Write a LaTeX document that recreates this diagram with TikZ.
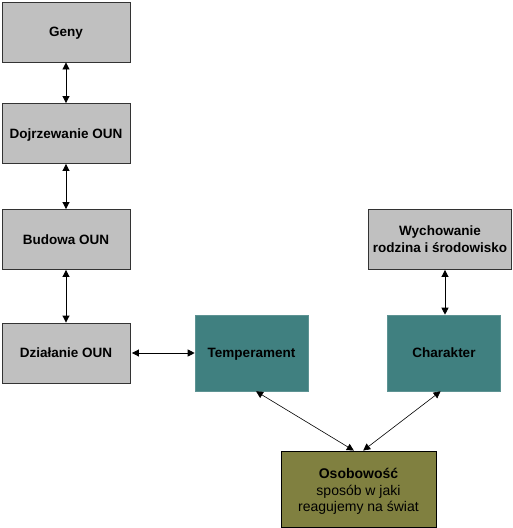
\documentclass[tikz,border=0pt]{standalone}
\usepackage{fontspec}
\setmainfont{Liberation Sans}
\usetikzlibrary{arrows.meta,calc}
\definecolor{boxgray}{HTML}{C0C0C0}
\definecolor{tealbox}{HTML}{408080}
\definecolor{olivebox}{HTML}{808040}
\tikzset{
  graybox/.style={draw=black!80, line width=0.9pt, fill=boxgray, minimum width=128pt, minimum height=60pt, inner sep=0pt, font=\fontsize{13.5}{17}\selectfont\bfseries, align=center},
  tealstyle/.style={fill=tealbox, draw=tealbox!85!white, line width=0.6pt, minimum width=113pt, minimum height=76pt, inner sep=0pt, font=\fontsize{13.5}{17}\selectfont\bfseries, align=center},
  olivestyle/.style={fill=olivebox, draw=black, line width=0.9pt, minimum width=155pt, minimum height=76pt, inner sep=0pt, font=\fontsize{14}{16.5}\selectfont, align=center},
  conn/.style={line width=0.9pt, {Triangle[length=7pt,width=7pt]}-{Triangle[length=7pt,width=7pt]}},
  thinconn/.style={line width=0.6pt, {Triangle[length=7pt,width=7pt]}-{Triangle[length=7pt,width=7pt]}}
}
\newcommand{\mystrut}{\rule[-3.4pt]{0pt}{16.4pt}}
\begin{document}
\begin{tikzpicture}[x=1pt,y=-1pt]
\useasboundingbox (0,0) rectangle (513,528);
\node[graybox] (geny) at (66,32) {\mystrut Geny};
\node[graybox] (dojr) at (66,133.5) {\mystrut Dojrzewanie OUN};
\node[graybox] (bud) at (66,239.5) {\mystrut Budowa OUN};
\node[graybox] (dzial) at (66,353) {\mystrut Działanie OUN};
\node[graybox, minimum width=143pt] (wych) at (440,239.5) {Wychowanie\\rodzina i środowisko};
\node[tealstyle] (temp) at (251.5,353) {\mystrut Temperament};
\node[tealstyle] (char) at (444,353) {\mystrut Charakter};
\node[olivestyle] (oso) at (358.5,489) {\rule{0pt}{15pt}\textbf{Osobowość}\\sposób w jaki\\reagujemy na świat};
\draw[conn] (geny.south) -- (dojr.north);
\draw[conn] (dojr.south) -- (bud.north);
\draw[conn] (bud.south) -- (dzial.north);
\draw[conn] ($(dzial.east)+(1.5,0)$) -- (temp.west);
\draw[conn] ($(wych.south)+(5,0)$) -- ($(char.north)+(1,0)$);
\draw[thinconn] ($(temp.south west)!0.54!(temp.south east)$) -- ($(oso.north west)!0.47!(oso.north east)$);
\draw[thinconn] ($(char.south west)!0.47!(char.south east)$) -- ($(oso.north west)!0.53!(oso.north east)$);
\end{tikzpicture}
\end{document}
